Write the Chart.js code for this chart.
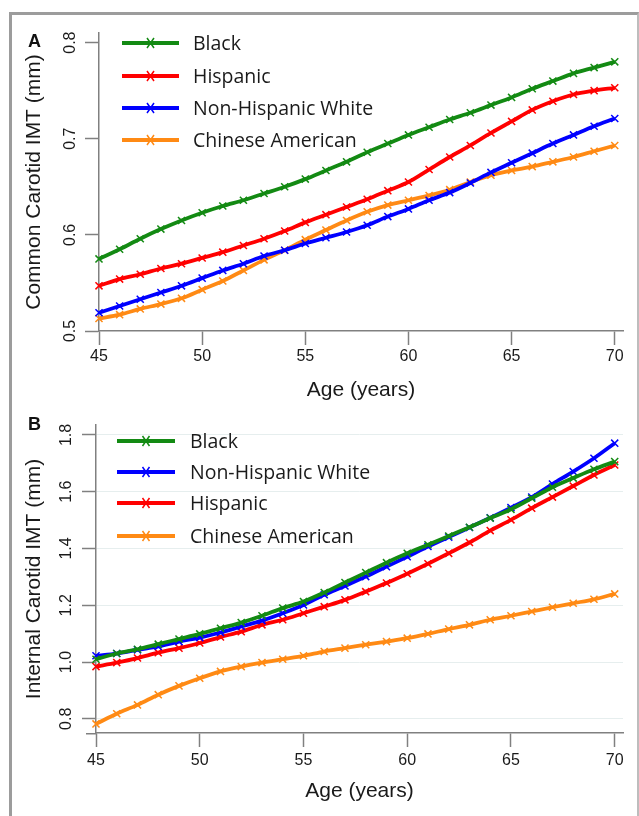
<!DOCTYPE html>
<html><head><meta charset="utf-8">
<script src="https://cdn.jsdelivr.net/npm/chart.js@4"></script>
<style>
html,body{margin:0;padding:0;background:#fff;width:639px;height:816px;overflow:hidden;position:relative;}
#frame{position:absolute;left:9px;top:12px;width:625px;height:900px;border-top:3px solid #9c9c9c;border-left:3px solid #9c9c9c;border-right:2px solid #bdbdbd;}
canvas{position:absolute;left:0;}
#cA{top:0}
#cB{top:410px}
.lab{position:absolute;font:bold 18px "Liberation Sans",Arial,sans-serif;line-height:1;color:#111;}
</style></head><body>
<div id="frame"></div>
<canvas id="cA" width="639" height="410"></canvas>
<canvas id="cB" width="639" height="406"></canvas>
<div class="lab" style="left:28px;top:32px">A</div>
<div class="lab" style="left:28px;top:415px">B</div>
<script>
// ---- data ----
const ages = [45,46,47,48,49,50,51,52,53,54,55,56,57,58,59,60,61,62,63,64,65,66,67,68,69,70];
const xTicks = [45,50,55,60,65,70];
const yTicksA = [0.5,0.6,0.7,0.8];
const yTicksB = [0.8,1.0,1.2,1.4,1.6,1.8];

const blackA = [0.575,0.585,0.596,0.606,0.615,0.623,0.630,0.636,0.643,0.650,0.658,0.667,0.676,0.686,0.695,0.704,0.712,0.720,0.727,0.735,0.743,0.752,0.760,0.768,0.774,0.780];
const hispA  = [0.547,0.554,0.559,0.565,0.570,0.576,0.582,0.589,0.596,0.604,0.613,0.621,0.629,0.637,0.646,0.655,0.668,0.681,0.693,0.706,0.718,0.730,0.739,0.746,0.750,0.753];
const nhwA   = [0.519,0.526,0.533,0.540,0.547,0.555,0.563,0.570,0.578,0.584,0.591,0.597,0.603,0.610,0.619,0.627,0.636,0.644,0.654,0.665,0.675,0.685,0.695,0.704,0.713,0.721];
const chnA   = [0.513,0.517,0.523,0.528,0.534,0.543,0.552,0.563,0.574,0.584,0.595,0.605,0.615,0.624,0.631,0.636,0.641,0.647,0.655,0.662,0.667,0.671,0.676,0.681,0.687,0.693];

const blackB = [1.010,1.030,1.045,1.063,1.081,1.099,1.119,1.139,1.163,1.190,1.213,1.245,1.280,1.315,1.350,1.383,1.413,1.444,1.475,1.507,1.538,1.577,1.616,1.648,1.679,1.706];
const nhwB   = [1.022,1.030,1.043,1.055,1.072,1.086,1.104,1.125,1.146,1.172,1.201,1.237,1.268,1.301,1.336,1.371,1.407,1.440,1.474,1.508,1.544,1.581,1.627,1.671,1.718,1.771];
const hispB  = [0.984,0.998,1.014,1.033,1.049,1.067,1.088,1.107,1.131,1.149,1.172,1.195,1.219,1.248,1.278,1.311,1.346,1.383,1.421,1.463,1.501,1.542,1.581,1.620,1.659,1.694];
const chnB   = [0.782,0.818,0.849,0.885,0.916,0.943,0.967,0.984,0.998,1.010,1.022,1.037,1.049,1.061,1.072,1.084,1.099,1.116,1.131,1.149,1.163,1.178,1.193,1.207,1.221,1.240];

const labels = {black:'Black', hisp:'Hispanic', nhw:'Non-Hispanic White', chn:'Chinese American'};
const colors = {black:'#138a13', hisp:'#ff0000', nhw:'#0000ff', chn:'#ff8a14'};

// ---- helpers ----
const AX = '#808080';
const TXT = '#1a1a1a';
const FONT = '"Liberation Sans", Arial, sans-serif';

function ds(key, vals){
  return {
    label: labels[key],
    data: ages.map((a,i)=>({x:a, y:vals[i]})),
    borderColor: colors[key], backgroundColor: colors[key],
    borderWidth: 3.8, pointStyle:'crossRot', pointRadius:5, pointBorderWidth:1.5,
    pointBorderColor: colors[key], pointHoverRadius:5,
    cubicInterpolationMode:'monotone', clip:false, fill:false
  };
}

function drawCross(ctx, x, y, r){
  ctx.beginPath();
  ctx.moveTo(x-r*0.7, y-r); ctx.lineTo(x+r*0.7, y+r);
  ctx.moveTo(x+r*0.7, y-r); ctx.lineTo(x-r*0.7, y+r);
  ctx.stroke();
}

const legendPlugin = {
  id:'customLegend',
  afterDatasetsDraw(chart, args, o){
    const ctx = chart.ctx;
    ctx.save();
    chart.data.datasets.forEach((d,i)=>{
      const y = o.ys[i];
      ctx.strokeStyle = d.borderColor; ctx.lineWidth = 4; ctx.lineCap='butt';
      ctx.beginPath(); ctx.moveTo(o.x1,y); ctx.lineTo(o.x2,y); ctx.stroke();
      ctx.lineWidth = 1.5;
      drawCross(ctx, (o.x1+o.x2)/2, y, 5);
      ctx.fillStyle = TXT; ctx.font = '19.5px "Open Sans", sans-serif';
      ctx.textBaseline='middle'; ctx.textAlign='left';
      ctx.fillText(d.label, o.tx, y+1);
    });
    ctx.restore();
  }
};

const axisExt = {
  id:'axisExt',
  afterDraw(chart, args, o){
    if(!o.len) return;
    const xs = chart.scales.x, ctx = chart.ctx;
    ctx.save(); ctx.strokeStyle = AX; ctx.lineWidth = 1.5;
    ctx.beginPath(); ctx.moveTo(xs.left - o.len, xs.top + 0.75); ctx.lineTo(xs.left, xs.top + 0.75); ctx.stroke();
    ctx.restore();
  }
};

function makeChart(id, datasets, cfg){
  return new Chart(document.getElementById(id), {
    type:'line',
    data:{datasets},
    plugins:[legendPlugin, axisExt],
    options:{
      responsive:false, animation:false, events:[],
      layout:{padding:{left:0, right:16, top:cfg.padTop, bottom:0}},
      plugins:{legend:{display:false}, tooltip:{enabled:false},
        customLegend: cfg.legend, axisExt:{len:cfg.ext}},
      scales:{
        x:{type:'linear', min:45, max:70.4,
          afterBuildTicks:s=>{ s.ticks = xTicks.map(v=>({value:v})); },
          afterFit:s=>{ s.height = cfg.xH; },
          grid:{drawOnChartArea:false, drawTicks:true, tickLength:14, tickColor:AX, tickWidth:1.5},
          border:{display:true, color:AX, width:1.5},
          ticks:{padding:cfg.xPad, color:TXT, font:{family:FONT, size:16}, maxRotation:0, autoSkip:false, callback:v=>String(v)},
          title:{display:true, text:'Age (years)', color:TXT, font:{family:FONT, size:21}, padding:{top:0, bottom:cfg.xTitlePad}}
        },
        y:{type:'linear', min:cfg.ymin, max:cfg.ymax,
          afterBuildTicks:s=>{ s.ticks = cfg.yTicks.map(v=>({value:v})); },
          afterFit:s=>{ s.width = cfg.yW; },
          grid:{drawOnChartArea:cfg.grid, color:'#e6eeee', lineWidth:1, drawTicks:true, tickLength:14, tickColor:AX, tickWidth:1.5},
          border:{display:true, color:AX, width:1.5},
          ticks:{padding:cfg.yPad, color:TXT, font:{family:FONT, size:16}, minRotation:90, maxRotation:90, crossAlign:'center', autoSkip:false, callback:v=>Number(v).toFixed(1)},
          title:{display:true, text:cfg.yTitle, color:TXT, font:{family:FONT, size:21}, padding:{top:22, bottom:0}}
        }
      }
    }
  });
}

makeChart('cA', [ds('black',blackA), ds('hisp',hispA), ds('nhw',nhwA), ds('chn',chnA)], {
  padTop:33, xH:79, yW:99, xPad:2, yPad:3, xTitlePad:7, ymin:0.5, ymax:0.81, yTicks:yTicksA, grid:false, ext:0,
  yTitle:'Common Carotid IMT (mm)',
  legend:{x1:122, x2:179, tx:193, ys:[43,76,108,140]}
});

makeChart('cB', [ds('black',blackB), ds('nhw',nhwB), ds('hisp',hispB), ds('chn',chnB)], {
  padTop:15, xH:83, yW:96, xPad:4, yPad:4, xTitlePad:12, ymin:0.75, ymax:1.835, yTicks:yTicksB, grid:true, ext:10,
  yTitle:'Internal Carotid IMT (mm)',
  legend:{x1:117, x2:175, tx:190, ys:[31,62,93,126]}
});
</script>
</body></html>
